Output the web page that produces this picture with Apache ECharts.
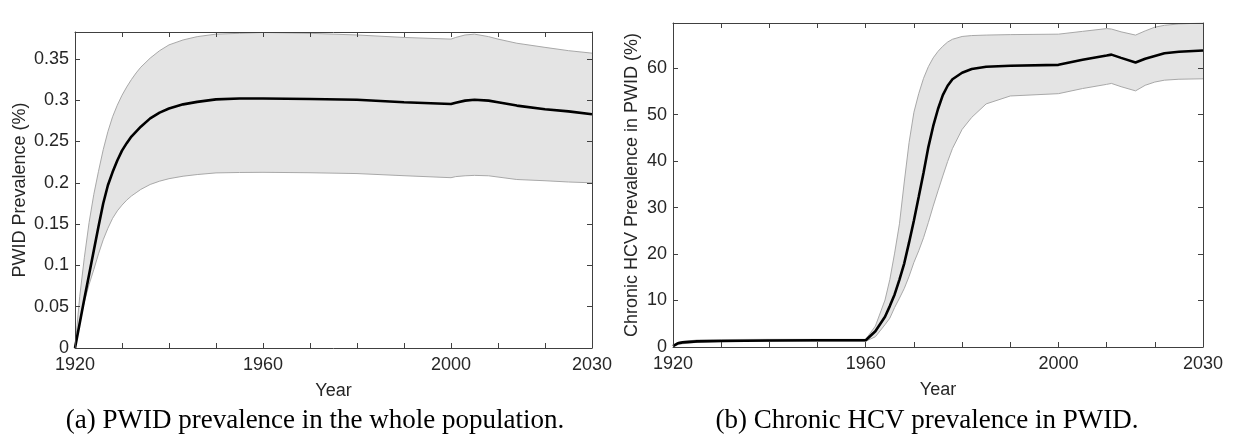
<!DOCTYPE html>
<html>
<head>
<meta charset="utf-8">
<script src="https://cdn.jsdelivr.net/npm/echarts@6/dist/echarts.min.js"></script>
<style>
html,body{margin:0;padding:0;background:#fff;}
#chart{width:1234px;height:437px;}
</style>
</head>
<body>
<div id="chart"></div>
<script>
// ---- Panel (a): PWID prevalence in the whole population (%)
var yearsA = [1920,1921,1922,1923,1924,1925,1926,1927,1928,1929,1930,1931,1932,1933,1934,1936,1938,1940,1943,1946,1950,1955,1960,1970,1980,1990,2000,2001,2003,2005,2008,2010,2014,2020,2025,2030];
var meanA  = [0,0.030,0.060,0.089,0.118,0.147,0.175,0.197,0.213,0.227,0.239,0.248,0.256,0.262,0.268,0.278,0.285,0.290,0.295,0.298,0.301,0.302,0.302,0.3015,0.3005,0.2975,0.2955,0.297,0.2995,0.3005,0.2995,0.2975,0.2935,0.289,0.2865,0.283];
var upperA = [0,0.062,0.110,0.152,0.186,0.214,0.240,0.262,0.280,0.294,0.306,0.316,0.325,0.333,0.340,0.351,0.360,0.367,0.373,0.377,0.380,0.381,0.382,0.381,0.379,0.376,0.374,0.376,0.379,0.380,0.377,0.374,0.369,0.364,0.360,0.357];
var lowerA = [0,0.032,0.056,0.077,0.095,0.114,0.131,0.145,0.157,0.166,0.173,0.179,0.184,0.188,0.192,0.198,0.202,0.205,0.208,0.210,0.212,0.2125,0.2127,0.2122,0.2112,0.2086,0.2062,0.2075,0.2085,0.209,0.2085,0.207,0.204,0.2025,0.201,0.200];

// ---- Panel (b): Chronic HCV prevalence in PWID (%)
var yearsB = [1920,1921,1922,1925,1930,1940,1950,1960,1962,1964,1965,1966,1967,1968,1969,1970,1971,1972,1973,1974,1975,1976,1977,1978,1980,1982,1985,1990,2000,2005,2010,2011,2013,2016,2018,2020,2022,2025,2030];
var meanB  = [0.2,0.8,1.0,1.2,1.3,1.4,1.45,1.45,3.4,6.5,8.8,11.3,14.5,18.0,22.5,27.2,32.3,37.5,43.0,47.5,51.2,54.2,56.2,57.6,59.0,59.8,60.3,60.5,60.7,61.8,62.7,62.9,62.2,61.2,62.0,62.6,63.2,63.5,63.8];
var upperB = [0.4,1.0,1.2,1.5,1.6,1.65,1.65,1.65,4.5,10.1,14.5,20.2,26.5,35.5,44.0,50.5,54.5,57.8,60.3,62.2,63.6,64.7,65.6,66.2,66.8,67.0,67.1,67.2,67.3,67.9,68.5,68.4,67.8,67.1,68.0,68.8,69.2,69.5,69.7];
var lowerB = [0.05,0.5,0.7,1.0,1.15,1.25,1.25,1.25,2.2,4.8,6.2,8.5,10.5,12.6,15.2,18.2,20.7,23.5,26.8,30.3,33.6,36.8,39.9,42.7,46.8,49.4,52.3,54.0,54.5,55.6,56.5,56.7,56.0,55.1,56.3,57.0,57.4,57.6,57.7];

var xLabelsShown = [1920,1960,2000,2030];
var yTitleA = 'PWID Prevalence (%)';
var yTitleB = 'Chronic HCV Prevalence in PWID (%)';
var xTitle = 'Year';
var captionA = '(a) PWID prevalence in the whole population.';
var captionB = '(b) Chronic HCV prevalence in PWID.';

function pairs(xs, ys){ return xs.map(function(x,i){ return [x, ys[i]]; }); }

var AX = '#404040';
var TXT = '#262626';
var FONT = 'Liberation Sans, Arial, sans-serif';
var BAND_FILL = '#e4e4e4';
var BAND_EDGE = '#a8a8a8';

function xAxisDef(grid, bottom){
  return {
    type:'value', gridIndex:grid, min:1920, max:2030, interval:10,
    position: bottom ? 'bottom' : 'top',
    name: bottom ? xTitle : '', nameLocation:'middle', nameGap:34,
    nameTextStyle:{color:TXT, fontSize:18, fontFamily:FONT},
    axisLine:{show:true, onZero:false, lineStyle:{color:AX, width:1}},
    axisTick:{show:true, inside:true, length:5, lineStyle:{color:AX}},
    splitLine:{show:false},
    axisLabel:{show:bottom, color:TXT, fontSize:18, fontFamily:FONT, margin:8,
      formatter:function(v){ return xLabelsShown.indexOf(v) >= 0 ? String(v) : ''; }},
    z:5
  };
}
function yAxisDef(grid, left, max, interval, title, gap, dec){
  return {
    type:'value', gridIndex:grid, min:0, max:max, interval:interval,
    position: left ? 'left' : 'right',
    name: left ? title : '', nameLocation:'middle', nameGap:gap,
    nameTextStyle:{color:TXT, fontSize:18, fontFamily:FONT},
    axisLine:{show:true, onZero:false, lineStyle:{color:AX, width:1}},
    axisTick:{show:true, inside:true, length:5, lineStyle:{color:AX}},
    splitLine:{show:false},
    axisLabel:{show:left, color:TXT, fontSize:18, fontFamily:FONT, margin:6, showMaxLabel:false,
      formatter:function(v){ return String(+v.toFixed(dec)); }},
    z:5
  };
}
// band fill polygon drawn through the axis scales (api.coord)
function bandFill(xi, yi, xs, up, lo){
  return {
    type:'custom', xAxisIndex:xi, yAxisIndex:yi, silent:true, z:1,
    clip:true,
    data: pairs(xs, up),
    renderItem:function(params, api){
      if (params.dataIndex !== 0) return null;
      var pts = [];
      for (var i = 0; i < xs.length; i++) pts.push(api.coord([xs[i], up[i]]));
      for (var j = xs.length - 1; j >= 0; j--) pts.push(api.coord([xs[j], lo[j]]));
      return {type:'polygon', shape:{points:pts}, style:{fill:BAND_FILL, stroke:null}};
    }
  };
}
function lineSeries(xi, yi, xs, ys, color, width, z){
  return {type:'line', xAxisIndex:xi, yAxisIndex:yi, data:pairs(xs, ys), showSymbol:false,
          symbol:'none', smooth:false, lineStyle:{color:color, width:width}, z:z, silent:true};
}

var chart = echarts.init(document.getElementById('chart'), null, {renderer:'canvas'});
chart.setOption({
  animation:false,
  backgroundColor:'#fff',
  grid:[
    {left:75, top:32, width:517, height:316},
    {left:673, top:23, width:530, height:324}
  ],
  xAxis:[ xAxisDef(0,true), xAxisDef(0,false), xAxisDef(1,true), xAxisDef(1,false) ],
  yAxis:[
    yAxisDef(0,true,0.3826,0.05,yTitleA,46,2), yAxisDef(0,false,0.3826,0.05,'',0,2),
    yAxisDef(1,true,69.7,10,yTitleB,32,0), yAxisDef(1,false,69.7,10,'',0,0)
  ],
  series: [
    bandFill(0,0,yearsA,upperA,lowerA),
    lineSeries(0,0,yearsA,upperA,BAND_EDGE,1,3),
    lineSeries(0,0,yearsA,lowerA,BAND_EDGE,1,3),
    lineSeries(0,0,yearsA,meanA,'#000',2.6,4),
    bandFill(2,2,yearsB,upperB,lowerB),
    lineSeries(2,2,yearsB,upperB,BAND_EDGE,1,3),
    lineSeries(2,2,yearsB,lowerB,BAND_EDGE,1,3),
    lineSeries(2,2,yearsB,meanB,'#000',2.6,4)
  ],
  graphic:[
    {type:'text', x:315, y:407, style:{text:captionA, fill:'#000', font:'27px "Liberation Serif", serif', textAlign:'center'}},
    {type:'text', x:927, y:407, style:{text:captionB, fill:'#000', font:'27px "Liberation Serif", serif', textAlign:'center'}}
  ]
});
</script>
</body>
</html>
